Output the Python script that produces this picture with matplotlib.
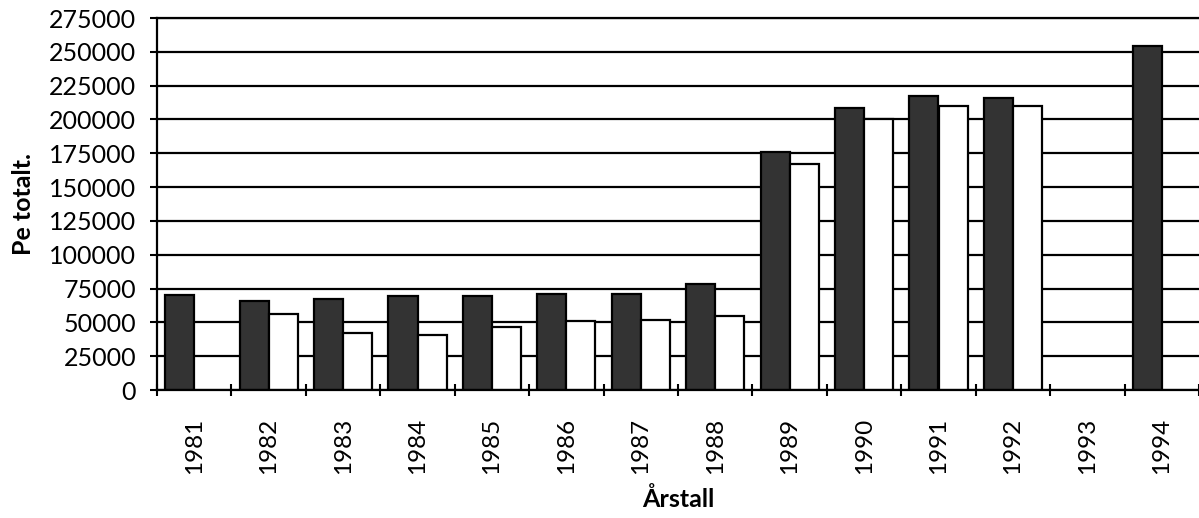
import matplotlib.pyplot as plt
import numpy as np

plt.rcParams["font.family"] = ["Lato", "DejaVu Sans"]

years = ["1981", "1982", "1983", "1984", "1985", "1986", "1987",
         "1988", "1989", "1990", "1991", "1992", "1993", "1994"]
# mörka staplar
serie_1 = [70500, 65700, 67600, 69800, 69300, 70600, 71300,
           78300, 176000, 208200, 217100, 216000, np.nan, 254400]
# vita staplar
serie_2 = [np.nan, 56000, 42000, 41000, 46300, 51200, 51500,
           54400, 167000, 200400, 210200, 209900, np.nan, np.nan]
y_ticks = [0, 25000, 50000, 75000, 100000, 125000, 150000,
           175000, 200000, 225000, 250000, 275000]


def main():
    fig = plt.figure(figsize=(11.99, 5.18), dpi=100)
    ax = fig.add_axes([157 / 1199, 1 - 390 / 518, 1 - 157 / 1199, (390 - 18) / 518])

    x = np.arange(len(years))
    w = 0.39
    ax.bar(x - w / 2, serie_1, width=w, color="#333333", edgecolor="black", linewidth=1.6)
    ax.bar(x + w / 2, serie_2, width=w, color="white", edgecolor="black", linewidth=1.6)

    ax.set_xlim(-0.5, len(years) - 0.5)
    ax.set_ylim(0, 275000)
    ax.set_yticks(y_ticks)
    ax.set_yticklabels([str(v) for v in y_ticks], fontsize=18)
    ax.yaxis.grid(True, color="black", linewidth=1.6)
    ax.set_axisbelow(True)

    # årtal i mitten, streck mellan kategorierna
    ax.set_xticks(x)
    ax.set_xticklabels(years, rotation=90, fontsize=17.5)
    ax.set_xticks(np.arange(-0.5, len(years), 1.0), minor=True)
    ax.tick_params(axis="x", which="major", length=0, pad=20)
    ax.tick_params(axis="x", which="minor", direction="inout", length=9, width=1.5)
    ax.tick_params(axis="y", length=5, width=1.5, pad=10)

    ax.spines["right"].set_visible(False)
    ax.spines["top"].set_linewidth(1.6)
    ax.spines["left"].set_linewidth(1.6)
    ax.spines["bottom"].set_linewidth(1.6)

    ax.set_ylabel("Pe totalt.", fontsize=18, fontweight="bold", labelpad=10)
    ax.set_xlabel("Årstall", fontsize=18, fontweight="bold", labelpad=9)

    fig.savefig("out.png", dpi=100)


if __name__ == '__main__':
    main()
